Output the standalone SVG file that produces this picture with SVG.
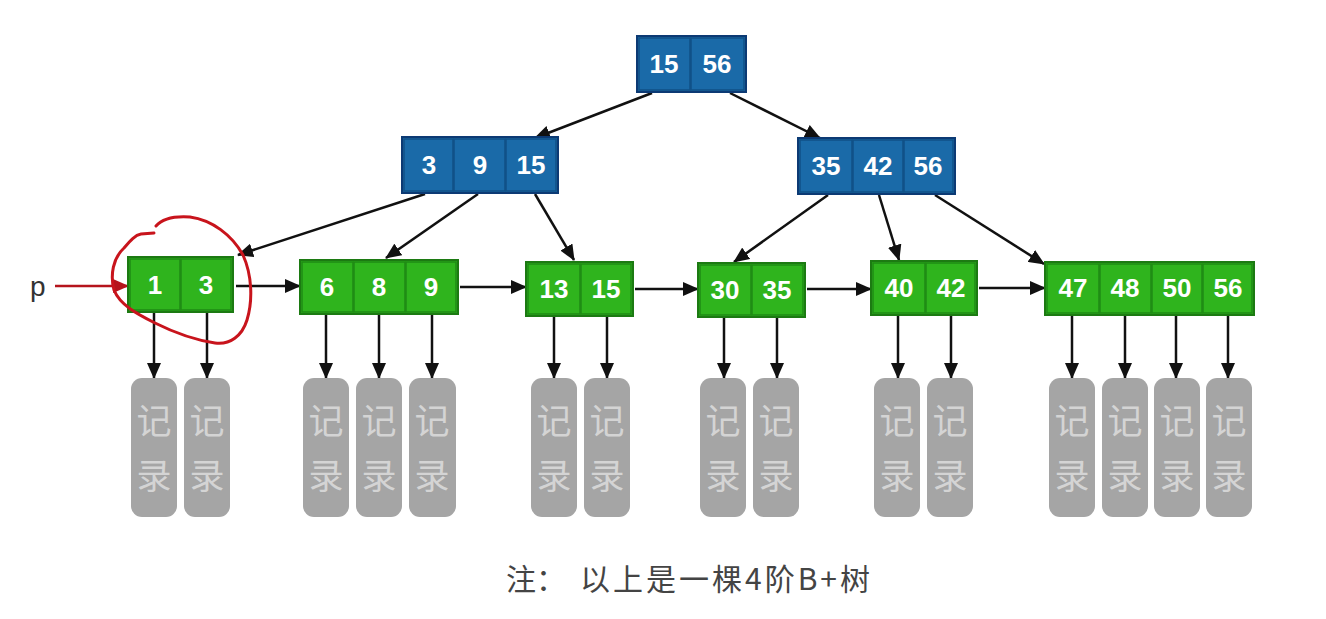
<svg xmlns="http://www.w3.org/2000/svg" width="1326" height="619" viewBox="0 0 1326 619">
<style>
.bn{fill:#1868a6;stroke:#0c3a74;stroke-width:2}
.bc{fill:#1a6aa8;stroke:#105086;stroke-width:1.5}
.gn{fill:#2fb41d;stroke:#1c7a12;stroke-width:2}
.gc{fill:#2fb41d;stroke:#1f8a15;stroke-width:1.5}
.t{font-family:"Liberation Sans",Arial,sans-serif;font-weight:bold;font-size:26px;fill:#ffffff;text-anchor:middle}
.rec rect{fill:#a5a5a5}
.rec text{font-family:"Noto Sans CJK SC",sans-serif;font-size:35px;fill:#d4d4d4;text-anchor:middle}
.ln{stroke:#111;stroke-width:2.5;fill:none;marker-end:url(#ah)}
.cap{font-family:"Noto Sans CJK SC",sans-serif;font-size:30px;fill:#444}
</style>
<defs>
<marker id="ah" markerUnits="userSpaceOnUse" markerWidth="16" markerHeight="14" viewBox="0 0 16 14" refX="15" refY="7" orient="auto"><path d="M0,0 L16,7 L0,14 z" fill="#111"/></marker>
<marker id="ahr" markerUnits="userSpaceOnUse" markerWidth="16" markerHeight="14" viewBox="0 0 16 14" refX="15" refY="7" orient="auto"><path d="M0,0 L16,7 L0,14 z" fill="#b5141c"/></marker>
</defs>
<rect width="1326" height="619" fill="#ffffff"/>

<g id="connectors">
<line class="ln" x1="652" y1="93" x2="535" y2="138"/>
<line class="ln" x1="730" y1="93" x2="820" y2="138"/>
<line class="ln" x1="425" y1="194" x2="238" y2="255"/>
<line class="ln" x1="478" y1="194" x2="386" y2="258"/>
<line class="ln" x1="535" y1="194" x2="574" y2="260"/>
<line class="ln" x1="828" y1="195" x2="734" y2="262"/>
<line class="ln" x1="879" y1="195" x2="899" y2="260"/>
<line class="ln" x1="935" y1="195" x2="1044" y2="264"/>
<line class="ln" x1="236" y1="286" x2="300" y2="286"/>
<line class="ln" x1="460" y1="287" x2="526" y2="287"/>
<line class="ln" x1="635" y1="289" x2="698" y2="289"/>
<line class="ln" x1="807" y1="289" x2="871" y2="289"/>
<line class="ln" x1="979" y1="288" x2="1045" y2="288"/>
<line x1="55" y1="286" x2="128" y2="286" stroke="#b5141c" stroke-width="2.5" marker-end="url(#ahr)"/>
<g>
<line class="ln" x1="154" y1="312" x2="154" y2="378"/>
<line class="ln" x1="207" y1="312" x2="207" y2="378"/>
<line class="ln" x1="326" y1="314" x2="326" y2="378"/>
<line class="ln" x1="379" y1="314" x2="379" y2="378"/>
<line class="ln" x1="432" y1="314" x2="432" y2="378"/>
<line class="ln" x1="554" y1="316" x2="554" y2="378"/>
<line class="ln" x1="607" y1="316" x2="607" y2="378"/>
<line class="ln" x1="724" y1="317" x2="724" y2="378"/>
<line class="ln" x1="777" y1="317" x2="777" y2="378"/>
<line class="ln" x1="898" y1="315" x2="898" y2="378"/>
<line class="ln" x1="951" y1="315" x2="951" y2="378"/>
<line class="ln" x1="1072" y1="315" x2="1072" y2="378"/>
<line class="ln" x1="1125" y1="315" x2="1125" y2="378"/>
<line class="ln" x1="1176" y1="315" x2="1176" y2="378"/>
<line class="ln" x1="1228" y1="315" x2="1228" y2="378"/>
</g>
</g>

<g id="root">
<rect class="bn" x="637" y="36" width="109" height="56"/>
<rect class="bc" x="639" y="38" width="51" height="52"/><rect class="bc" x="691" y="38" width="53" height="52"/>
<text class="t" x="664" y="73">15</text><text class="t" x="717" y="73">56</text>
</g>

<g id="internal-left">
<rect class="bn" x="402" y="137" width="156" height="56"/>
<rect class="bc" x="404" y="139" width="49" height="52"/><rect class="bc" x="454" y="139" width="51" height="52"/><rect class="bc" x="506" y="139" width="50" height="52"/>
<text class="t" x="429" y="174">3</text><text class="t" x="480" y="174">9</text><text class="t" x="531" y="174">15</text>
</g>

<g id="internal-right">
<rect class="bn" x="798" y="138" width="157" height="56"/>
<rect class="bc" x="800" y="140" width="52" height="52"/><rect class="bc" x="853" y="140" width="50" height="52"/><rect class="bc" x="904" y="140" width="49" height="52"/>
<text class="t" x="826" y="175">35</text><text class="t" x="878" y="175">42</text><text class="t" x="928" y="175">56</text>
</g>

<g id="leaf1">
<rect class="gn" x="128" y="257" width="105" height="55"/>
<rect class="gc" x="130" y="259" width="50" height="51"/><rect class="gc" x="181" y="259" width="50" height="51"/>
<text class="t" x="155" y="294">1</text><text class="t" x="206" y="294">3</text>
</g>
<g id="leaf2">
<rect class="gn" x="300" y="260" width="158" height="54"/>
<rect class="gc" x="302" y="262" width="51" height="50"/><rect class="gc" x="354" y="262" width="51" height="50"/><rect class="gc" x="406" y="262" width="50" height="50"/>
<text class="t" x="327" y="296">6</text><text class="t" x="379" y="296">8</text><text class="t" x="431" y="296">9</text>
</g>
<g id="leaf3">
<rect class="gn" x="526" y="262" width="107" height="54"/>
<rect class="gc" x="528" y="264" width="52" height="50"/><rect class="gc" x="581" y="264" width="50" height="50"/>
<text class="t" x="554" y="298">13</text><text class="t" x="606" y="298">15</text>
</g>
<g id="leaf4">
<rect class="gn" x="698" y="263" width="107" height="54"/>
<rect class="gc" x="700" y="265" width="51" height="50"/><rect class="gc" x="752" y="265" width="51" height="50"/>
<text class="t" x="725" y="299">30</text><text class="t" x="777" y="299">35</text>
</g>
<g id="leaf5">
<rect class="gn" x="871" y="261" width="106" height="54"/>
<rect class="gc" x="873" y="263" width="52" height="50"/><rect class="gc" x="926" y="263" width="49" height="50"/>
<text class="t" x="899" y="297">40</text><text class="t" x="951" y="297">42</text>
</g>
<g id="leaf6">
<rect class="gn" x="1045" y="262" width="209" height="53"/>
<rect class="gc" x="1047" y="264" width="52" height="49"/><rect class="gc" x="1100" y="264" width="51" height="49"/><rect class="gc" x="1152" y="264" width="50" height="49"/><rect class="gc" x="1203" y="264" width="49" height="49"/>
<text class="t" x="1073" y="297">47</text><text class="t" x="1125" y="297">48</text><text class="t" x="1177" y="297">50</text><text class="t" x="1228" y="297">56</text>
</g>

<g id="records" class="rec">
<g><rect x="131" y="378" width="46" height="139" rx="11"/><text x="154" y="434">记</text><text x="154" y="489">录</text></g>
<g><rect x="184" y="378" width="46" height="139" rx="11"/><text x="207" y="434">记</text><text x="207" y="489">录</text></g>
<g><rect x="303" y="378" width="46" height="139" rx="11"/><text x="326" y="434">记</text><text x="326" y="489">录</text></g>
<g><rect x="356" y="378" width="46" height="139" rx="11"/><text x="379" y="434">记</text><text x="379" y="489">录</text></g>
<g><rect x="409" y="378" width="47" height="139" rx="11"/><text x="432" y="434">记</text><text x="432" y="489">录</text></g>
<g><rect x="531" y="378" width="46" height="139" rx="11"/><text x="554" y="434">记</text><text x="554" y="489">录</text></g>
<g><rect x="584" y="378" width="46" height="139" rx="11"/><text x="607" y="434">记</text><text x="607" y="489">录</text></g>
<g><rect x="700" y="378" width="46" height="139" rx="11"/><text x="723" y="434">记</text><text x="723" y="489">录</text></g>
<g><rect x="753" y="378" width="46" height="139" rx="11"/><text x="776" y="434">记</text><text x="776" y="489">录</text></g>
<g><rect x="874" y="378" width="46" height="139" rx="11"/><text x="897" y="434">记</text><text x="897" y="489">录</text></g>
<g><rect x="927" y="378" width="46" height="139" rx="11"/><text x="950" y="434">记</text><text x="950" y="489">录</text></g>
<g><rect x="1049" y="378" width="46" height="139" rx="11"/><text x="1072" y="434">记</text><text x="1072" y="489">录</text></g>
<g><rect x="1102" y="378" width="46" height="139" rx="11"/><text x="1125" y="434">记</text><text x="1125" y="489">录</text></g>
<g><rect x="1154" y="378" width="46" height="139" rx="11"/><text x="1177" y="434">记</text><text x="1177" y="489">录</text></g>
<g><rect x="1206" y="378" width="46" height="139" rx="11"/><text x="1229" y="434">记</text><text x="1229" y="489">录</text></g>
</g>

<text x="30" y="296" font-family="Liberation Sans,Arial,sans-serif" font-size="28" fill="#333">p</text>

<path d="M156,226 C162,219 175,216 190,217 C212,220 232,235 243,255 C252,275 253,300 247,320 C242,336 230,345 215,343 C195,340 175,333 155,323 C137,314 120,305 114,290 C110,275 113,258 124,248 C130,241 135,235 141,234 L154,233" fill="none" stroke="#c8141c" stroke-width="3" stroke-linecap="round"/>

<text class="cap" x="506" y="590">注：</text>
<text class="cap" x="580" y="590" textLength="290" lengthAdjust="spacing">以上是一棵4阶B+树</text>
</svg>
